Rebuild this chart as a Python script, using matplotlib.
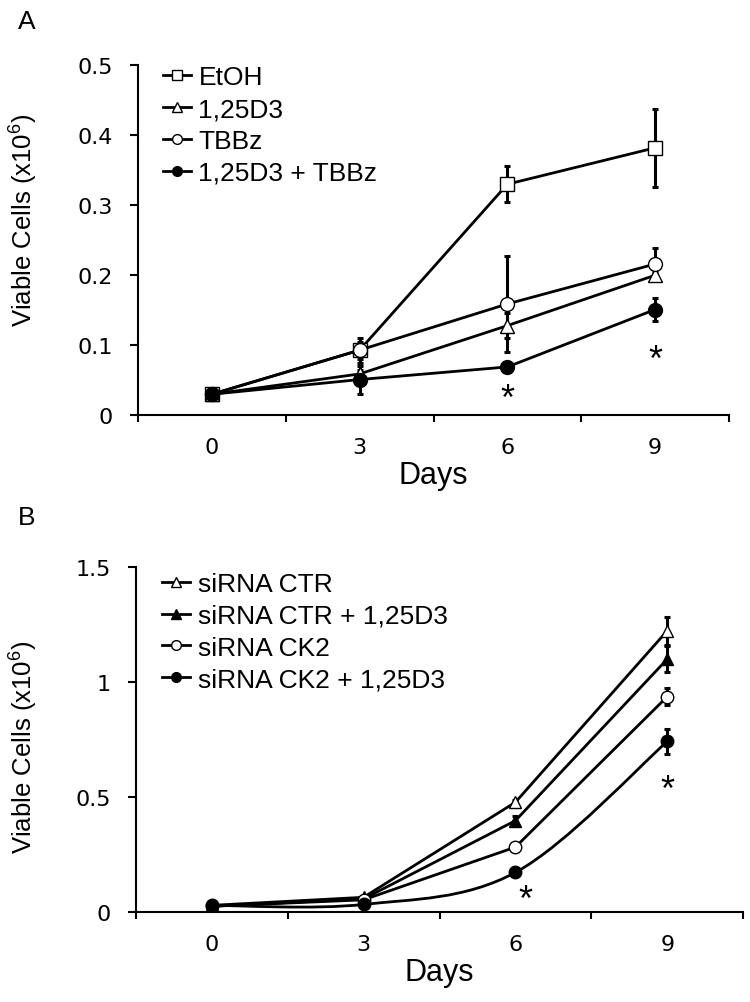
import numpy as np
import matplotlib
matplotlib.use("Agg")
import matplotlib.pyplot as plt
from matplotlib.path import Path
from matplotlib.patches import PathPatch
from matplotlib.lines import Line2D
from matplotlib.ticker import FormatStrFormatter, FixedLocator

plt.rcParams['font.family'] = ['Liberation Sans', 'DejaVu Sans']
plt.rcParams['mathtext.fontset'] = 'custom'
plt.rcParams['mathtext.rm'] = 'Liberation Sans'
plt.rcParams['mathtext.it'] = 'Liberation Sans'

days = [0, 3, 6, 9]

# Panel A
a_labels = ['EtOH', '1,25D3', 'TBBz', '1,25D3 + TBBz']
a_etoh = [0.030, 0.093, 0.330, 0.382]
a_d3 = [0.030, 0.059, 0.128, 0.200]
a_tbbz = [0.030, 0.093, 0.159, 0.216]
a_combo = [0.030, 0.051, 0.069, 0.151]
a_etoh_err = [0, 0.018, 0.026, 0.056]
a_d3_err = [0, 0.005, 0.018, 0.004]
a_tbbz_err = [0, 0.012, 0.069, 0.023]
a_combo_err = [0, 0.020, 0.004, 0.017]
a_star_x = [6, 9]
a_star_y = [0.022, 0.078]

# Panel B
b_labels = ['siRNA CTR', 'siRNA CTR + 1,25D3', 'siRNA CK2', 'siRNA CK2 + 1,25D3']
b_ctr = [0.029, 0.064, 0.477, 1.222]
b_ctr_d3 = [0.025, 0.057, 0.397, 1.099]
b_ck2 = [0.025, 0.053, 0.282, 0.936]
b_ck2_d3 = [0.029, 0.033, 0.172, 0.741]
b_ctr_err = [0, 0.005, 0.010, 0.060]
b_ctr_d3_err = [0, 0.005, 0.020, 0.055]
b_ck2_err = [0, 0.005, 0.010, 0.035]
b_ck2_d3_err = [0, 0.005, 0.010, 0.055]
b_star_x = [6.2, 9]
b_star_y = [0.05, 0.53]

styles = [('s', 'white'), ('^', 'white'), ('o', 'white'), ('o', 'black')]
styles_b = [('^', 'white'), ('^', 'black'), ('o', 'white'), ('o', 'black')]
smooth_b = [False, False, False, True]


def smooth_path(x, y):
    # Bezier curve through the points (spreadsheet-style smoothed line)
    n = len(x)
    verts = [(x[0], y[0])]
    codes = [Path.MOVETO]
    for i in range(n - 1):
        xa, ya = x[max(i - 1, 0)], y[max(i - 1, 0)]
        xb, yb = x[min(i + 2, n - 1)], y[min(i + 2, n - 1)]
        c1 = (x[i] + (x[i + 1] - xa) / 6, y[i] + (y[i + 1] - ya) / 6)
        c2 = (x[i + 1] - (xb - x[i]) / 6, y[i + 1] - (yb - y[i]) / 6)
        verts += [c1, c2, (x[i + 1], y[i + 1])]
        codes += [Path.CURVE4] * 3
    return Path(verts, codes)


def style_axes(ax, ymax, yticks, ylab_xy):
    ax.spines['top'].set_visible(False)
    ax.spines['right'].set_visible(False)
    for s in ['left', 'bottom']:
        ax.spines[s].set_linewidth(1.5)
    ax.set_xlim(-1.5, 10.5)
    ax.set_ylim(0, ymax)
    ax.set_xticks(days)
    ax.xaxis.set_minor_locator(FixedLocator([-1.5, 1.5, 4.5, 7.5, 10.5]))
    ax.tick_params(axis='x', which='major', length=0, pad=16)
    ax.tick_params(axis='x', which='minor', length=5, width=1.5, direction='out')
    ax.set_yticks(yticks)
    ax.yaxis.set_major_formatter(FormatStrFormatter('%g'))
    ax.tick_params(axis='y', length=6, width=1.5, direction='out', pad=12)
    for t in ax.get_xticklabels() + ax.get_yticklabels():
        t.set_fontfamily('DejaVu Sans')
        t.set_fontsize(16)
    ax.set_xlabel('Days', fontsize=22, labelpad=2)
    ax.set_ylabel('Viable Cells (x10$^{6}$)', fontsize=18.5)
    ax.yaxis.set_label_coords(*ylab_xy)


fig = plt.figure(figsize=(7.5, 10.03), dpi=100)

# ---- Panel A ----
ax1 = fig.add_axes([0.184, 0.585, 0.788, 0.349])
a_series = [a_etoh, a_d3, a_tbbz, a_combo]
a_errs = [a_etoh_err, a_d3_err, a_tbbz_err, a_combo_err]
handles = []
for vals, err, (mk, fc), lab in zip(a_series, a_errs, styles, a_labels):
    ax1.errorbar(days, vals, yerr=err, fmt='none', ecolor='black', elinewidth=2.2,
                 capsize=2.5, capthick=2.2, zorder=2)
    ax1.plot(days, vals, color='black', lw=2, marker=mk, markersize=10,
             markerfacecolor=fc, markeredgecolor='black', markeredgewidth=1, zorder=3)
    handles.append(Line2D([], [], color='black', lw=2, marker=mk, markersize=7,
                          markerfacecolor=fc, markeredgecolor='black', label=lab))
for sx, sy in zip(a_star_x, a_star_y):
    ax1.text(sx, sy, '*', ha='center', va='center', fontsize=26)
style_axes(ax1, 0.5, [0, 0.1, 0.2, 0.3, 0.4, 0.5], (-0.166, 0.56))
ax1.legend(handles=handles, loc='upper left', bbox_to_anchor=(0.042, 1.0), frameon=False,
           fontsize=19, handlelength=1.05, handletextpad=0.3, labelspacing=0.3,
           borderaxespad=0, borderpad=0)
fig.text(0.024, 0.978, 'A', fontsize=19, ha='left', va='center')

# ---- Panel B ----
ax2 = fig.add_axes([0.181, 0.0897, 0.81, 0.3443])
b_series = [b_ctr, b_ctr_d3, b_ck2, b_ck2_d3]
b_errs = [b_ctr_err, b_ctr_d3_err, b_ck2_err, b_ck2_d3_err]
handles = []
for vals, err, (mk, fc), lab, sm in zip(b_series, b_errs, styles_b, b_labels, smooth_b):
    if sm:
        ax2.add_patch(PathPatch(smooth_path(days, vals), fill=False, edgecolor='black',
                                lw=2, zorder=2))
    else:
        ax2.plot(days, vals, color='black', lw=2, zorder=2)
    ax2.errorbar(days, vals, yerr=err, fmt='none', ecolor='black', elinewidth=2.2,
                 capsize=2.5, capthick=2.2, zorder=2)
    ax2.plot(days, vals, ls='none', marker=mk, markersize=9,
             markerfacecolor=fc, markeredgecolor='black', markeredgewidth=1, zorder=3)
    handles.append(Line2D([], [], color='black', lw=2, marker=mk, markersize=7,
                          markerfacecolor=fc, markeredgecolor='black', label=lab))
for sx, sy in zip(b_star_x, b_star_y):
    ax2.text(sx, sy, '*', ha='center', va='center', fontsize=26)
style_axes(ax2, 1.5, [0, 0.5, 1, 1.5], (-0.157, 0.48))
ax2.legend(handles=handles, loc='upper left', bbox_to_anchor=(0.044, 0.985), frameon=False,
           fontsize=19, handlelength=1.05, handletextpad=0.3, labelspacing=0.3,
           borderaxespad=0, borderpad=0)
fig.text(0.024, 0.484, 'B', fontsize=19, ha='left', va='center')

fig.savefig('out.png', dpi=100)
plt.close(fig)
